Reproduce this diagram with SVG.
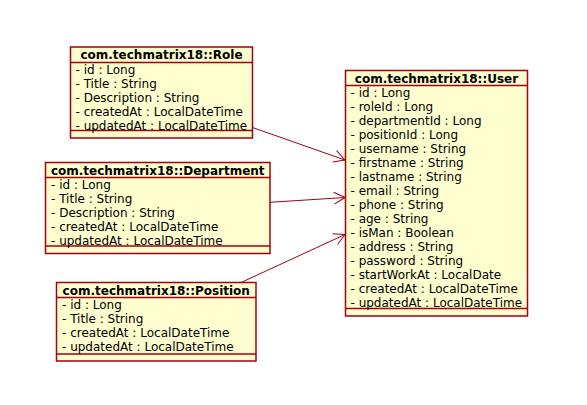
<svg xmlns="http://www.w3.org/2000/svg" width="587" height="405" viewBox="0 0 587 405">
<style>
.box{fill:#FEFECE;stroke:#A30010;stroke-width:1.5}
.sep{stroke:#A30010;stroke-width:1.5}
.hd{font-family:"DejaVu Sans",sans-serif;font-size:12px;font-weight:bold;text-anchor:middle;fill:#000}
.at{font-family:"DejaVu Sans",sans-serif;font-size:12px;fill:#000}
.edge{stroke:#A30010;stroke-width:1;fill:none}
</style>
<defs>
<marker id="arr" markerUnits="userSpaceOnUse" markerWidth="16" markerHeight="16" refX="13" refY="8" orient="auto" overflow="visible">
<path d="M13,8 L2,2 M13,8 L2,14" stroke="#A30010" stroke-width="1" fill="none"/>
</marker>
</defs>
<rect width="587" height="405" fill="#fff"/>
<g id="connectors">
<line class="edge" x1="252.5" y1="127.5" x2="345" y2="160" marker-end="url(#arr)"/>
<line class="edge" x1="270" y1="202.3" x2="345" y2="197.5" marker-end="url(#arr)"/>
<line class="edge" x1="240" y1="283" x2="345" y2="234.5" marker-end="url(#arr)"/>
</g>
<g id="role">
<rect class="box" x="70.5" y="47" width="182" height="91"/>
<line class="sep" x1="70.5" y1="62.5" x2="252.5" y2="62.5"/>
<line class="sep" x1="70.5" y1="130.5" x2="252.5" y2="130.5"/>
<text class="hd" x="161.5" y="59">com.techmatrix18::Role</text>
<text class="at" x="75.5" y="73.5">- id : Long</text>
<text class="at" x="75.5" y="87.5">- Title : String</text>
<text class="at" x="75.5" y="101.5">- Description : String</text>
<text class="at" x="75.5" y="115.5">- createdAt : LocalDateTime</text>
<text class="at" x="75.5" y="129.5">- updatedAt : LocalDateTime</text>
</g>
<g id="department">
<rect class="box" x="45.5" y="162.5" width="224.5" height="91"/>
<line class="sep" x1="45.5" y1="177.5" x2="270" y2="177.5"/>
<line class="sep" x1="45.5" y1="246" x2="270" y2="246"/>
<text class="hd" x="157.75" y="174.5">com.techmatrix18::Department</text>
<text class="at" x="51" y="188.5">- id : Long</text>
<text class="at" x="51" y="202.5">- Title : String</text>
<text class="at" x="51" y="216.5">- Description : String</text>
<text class="at" x="51" y="230.5">- createdAt : LocalDateTime</text>
<text class="at" x="51" y="244.5">- updatedAt : LocalDateTime</text>
</g>
<g id="position">
<rect class="box" x="56.5" y="282.5" width="199.5" height="78.5"/>
<line class="sep" x1="56.5" y1="297.5" x2="256" y2="297.5"/>
<line class="sep" x1="56.5" y1="354" x2="256" y2="354"/>
<text class="hd" x="156.25" y="294.5">com.techmatrix18::Position</text>
<text class="at" x="62" y="308.5">- id : Long</text>
<text class="at" x="62" y="322.5">- Title : String</text>
<text class="at" x="62" y="336.5">- createdAt : LocalDateTime</text>
<text class="at" x="62" y="350.5">- updatedAt : LocalDateTime</text>
</g>
<g id="user">
<rect class="box" x="345.5" y="70.5" width="182" height="245.5"/>
<line class="sep" x1="345.5" y1="85.5" x2="527.5" y2="85.5"/>
<line class="sep" x1="345.5" y1="308.5" x2="527.5" y2="308.5"/>
<text class="hd" x="436.5" y="82.5">com.techmatrix18::User</text>
<text class="at" x="350.5" y="97">- id : Long</text>
<text class="at" x="350.5" y="111">- roleId : Long</text>
<text class="at" x="350.5" y="125">- departmentId : Long</text>
<text class="at" x="350.5" y="139">- positionId : Long</text>
<text class="at" x="350.5" y="153">- username : String</text>
<text class="at" x="350.5" y="167">- firstname : String</text>
<text class="at" x="350.5" y="181">- lastname : String</text>
<text class="at" x="350.5" y="195">- email : String</text>
<text class="at" x="350.5" y="209">- phone : String</text>
<text class="at" x="350.5" y="223">- age : String</text>
<text class="at" x="350.5" y="237">- isMan : Boolean</text>
<text class="at" x="350.5" y="251">- address : String</text>
<text class="at" x="350.5" y="265">- password : String</text>
<text class="at" x="350.5" y="279">- startWorkAt : LocalDate</text>
<text class="at" x="350.5" y="293">- createdAt : LocalDateTime</text>
<text class="at" x="350.5" y="307">- updatedAt : LocalDateTime</text>
</g>
</svg>
